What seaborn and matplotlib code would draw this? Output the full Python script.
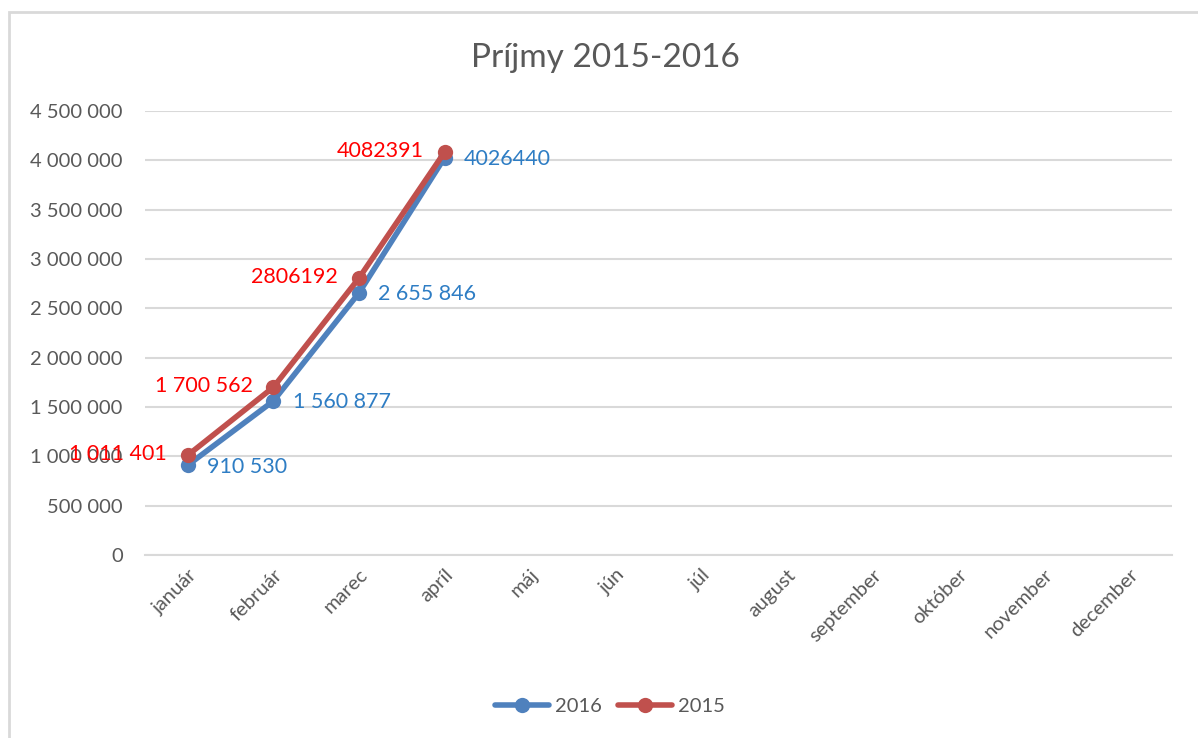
import pandas as pd
import matplotlib
matplotlib.use("Agg")
import matplotlib.pyplot as plt
import seaborn as sns
from matplotlib.patches import Rectangle

months = ['január', 'február', 'marec', 'apríl', 'máj', 'jún', 'júl',
          'august', 'september', 'október', 'november', 'december']
years = ['2016', '2015']
v2016 = [910530, 1560877, 2655846, 4026440]
v2015 = [1011401, 1700562, 2806192, 4082391]
lab2016 = ['910 530', '1 560 877', '2 655 846', '4026440']
lab2015 = ['1 011 401', '1 700 562', '2806192', '4082391']
yticks = list(range(0, 4500001, 500000))

data = pd.DataFrame({
    'mesiac': list(range(len(v2016))) + list(range(len(v2015))),
    'prijem': v2016 + v2015,
    'rok': ['2016'] * len(v2016) + ['2015'] * len(v2015)})

sns.set_theme(style='white')
plt.rcParams['font.family'] = ['Lato', 'DejaVu Sans']

line_cols = {'2016': '#4F81BD', '2015': '#C0504D'}
text_cols = {'2016': '#2E7DC4', '2015': '#FF0000'}

fig = plt.figure(figsize=(11.98, 7.38), dpi=100)
ax = fig.add_axes([145 / 1198, 1 - 555 / 738, (1172 - 145) / 1198, (555 - 111) / 738])

sns.lineplot(data=data, x='mesiac', y='prijem', hue='rok', hue_order=years,
             palette=line_cols, marker='o', markersize=11, markeredgewidth=0,
             linewidth=4, ax=ax)

for x, y, t in zip(range(len(v2016)), v2016, lab2016):
    ax.annotate(t, (x, y), xytext=(14, -1), textcoords='offset points',
                ha='left', va='center', fontsize=15.5, color=text_cols['2016'])
for x, y, t in zip(range(len(v2015)), v2015, lab2015):
    ax.annotate(t, (x, y), xytext=(-15, 1), textcoords='offset points',
                ha='right', va='center', fontsize=15.5, color=text_cols['2015'])

ax.set_xlim(-0.5, len(months) - 0.5)
ax.set_ylim(0, 4500000)
ax.set_xticks(range(len(months)))
ax.set_xticklabels(months, rotation=45, ha='right', rotation_mode='anchor',
                   fontsize=14.5, color='#595959')
ax.set_yticks(yticks)
ax.set_yticklabels([f'{v:,}'.replace(',', ' ') for v in yticks],
                   fontsize=14.5, color='#595959')
ax.tick_params(axis='x', length=0, pad=8)
ax.tick_params(axis='y', length=0, pad=16)
ax.yaxis.grid(True, color='#D9D9D9', linewidth=1.5)
for s in ['top', 'right', 'left']:
    ax.spines[s].set_visible(False)
ax.spines['bottom'].set_color('#D9D9D9')
ax.spines['bottom'].set_linewidth(1.5)
ax.set_xlabel('')
ax.set_ylabel('')

fig.text(605 / 1198, 1 - 58 / 738, 'Príjmy 2015-2016', ha='center', va='center',
         fontsize=24, color='#595959')

handles, labels = ax.get_legend_handles_labels()
ax.legend(handles, labels, loc='center', bbox_to_anchor=(610 / 1198, 1 - 706 / 738),
          bbox_transform=fig.transFigure, ncol=2, frameon=False, fontsize=14.5,
          handlelength=2.7, columnspacing=0.8, handletextpad=0.3,
          labelcolor='#595959')

fig.patches.append(Rectangle((9 / 1198, -0.1), 1.1, 1.1 - 12 / 738,
                             transform=fig.transFigure, fill=False,
                             edgecolor='#D9D9D9', linewidth=2, zorder=0))

fig.savefig('out.png', dpi=100)
